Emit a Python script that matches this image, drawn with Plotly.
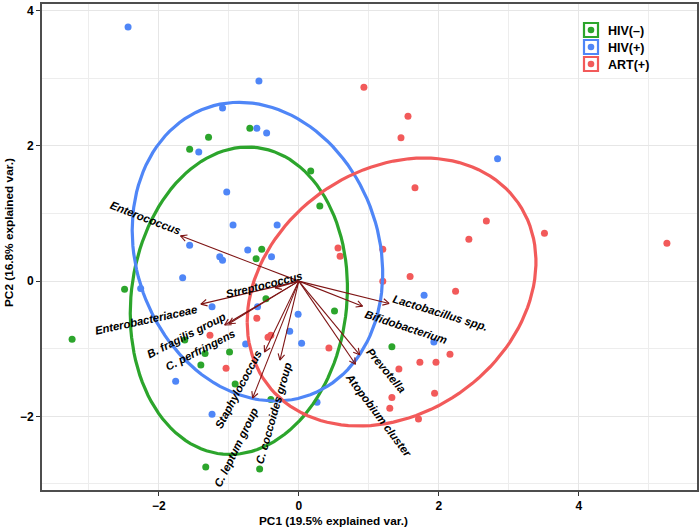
import numpy as np
import plotly.graph_objects as go

# ---------------- data ----------------
groups = ["HIV(–)", "HIV(+)", "ART(+)"]
colors = {"HIV(–)": "#2CA52C", "HIV(+)": "#4F86F7", "ART(+)": "#F25A5A"}

hivneg_pc1 = [-0.70, -1.29, -1.56, 0.17, 0.30, -0.53, -0.61, -2.49, -3.24, -0.47,
              -1.63, -1.34, -0.99, -1.40, -0.91, -0.40, -1.33, -0.56, 0.51, 1.33]
hivneg_pc2 = [2.26, 2.13, 1.95, 1.63, 1.11, 0.47, 0.33, -0.12, -0.86, -0.26,
              -0.87, -1.07, -1.05, -1.24, -1.52, -1.75, -2.75, -2.78, -0.44, -0.97]

hivpos_pc1 = [-2.44, -0.57, -1.09, -0.60, -0.46, -1.43, -1.03, -0.94, -0.31, -1.56,
              -0.73, -0.39, -1.13, -1.09, -1.66, -2.26, -1.24, -0.59, -0.01, -0.13,
              0.04, -0.76, -1.76, -1.24, 0.26, 2.84, 1.79, 1.93]
hivpos_pc2 = [3.76, 2.96, 2.56, 2.26, 2.19, 1.91, 1.32, 0.83, 0.83, 0.53,
              0.46, 0.36, 0.36, 0.31, 0.05, -0.11, -0.38, -0.38, -0.49, -0.74,
              -0.92, -0.93, -1.48, -1.97, -1.79, 1.81, -0.21, -0.90]

artpos_pc1 = [0.93, 1.56, 1.46, 1.66, 2.68, 2.43, 3.51, 5.26, 1.20, 0.56,
              0.59, 1.20, 1.59, 2.24, 2.16, 1.73, 1.96, 1.43, 1.94, 1.33,
              1.30, 1.71, -0.60, -1.27, -0.44, -0.40, 0.43, -1.04]
artpos_pc2 = [2.87, 2.44, 2.12, 1.38, 0.89, 0.62, 0.71, 0.56, 0.47, 0.49,
              0.37, 0.00, 0.07, -0.15, -1.08, -1.20, -1.20, -1.30, -1.66, -1.72,
              -1.88, -2.04, -0.55, -0.80, -0.83, -0.80, -0.99, -1.29]

group_x = {"HIV(–)": hivneg_pc1, "HIV(+)": hivpos_pc1, "ART(+)": artpos_pc1}
group_y = {"HIV(–)": hivneg_pc2, "HIV(+)": hivpos_pc2, "ART(+)": artpos_pc2}

var_names = ["Enterococcus", "Streptococcus", "Enterobacteriaceae", "B. fragilis group",
             "C. perfringens", "Staphylococcus", "C. coccoides group", "C. leptum group",
             "Lactobacillus spp.", "Bifidobacterium", "Prevotella", "Atopobium cluster"]
var_pc1 = [-1.69, -0.34, -1.40, -1.06, -1.00, -0.49, -0.27, -0.66, 1.29, 0.91, 0.87, 0.81]
var_pc2 = [0.67, -0.10, -0.34, -0.65, -0.63, -1.05, -1.17, -1.73, -0.33, -0.37, -1.09, -1.23]

# label placement (centre of each label, data units) and rotation (deg, clockwise)
label_x = [-2.19, -0.50, -2.19, -1.60, -1.41, -0.86, -0.36, -0.89, 2.03, 1.53, 1.24, 1.14]
label_y = [0.93, -0.06, -0.58, -0.80, -1.02, -1.60, -1.95, -2.46, -0.47, -0.68, -1.32, -1.98]
label_angle = [21, -14, -12, -27, -27, -62, -74, -64, 17, 18, 50, 53]

x_ticks = [-2, 0, 2, 4]
y_ticks = [-2, 0, 2, 4]

# ---------------- layout constants ----------------
W, H = 700, 530
ML, MR, MT, MB = 42, 3, 4, 40
XR = [-3.67, 5.69]
YR = [-3.09, 4.10]
pw, ph = W - ML - MR, H - MT - MB
sx = pw / (XR[1] - XR[0])  # px per unit
sy = ph / (YR[1] - YR[0])

FONT = "Liberation Sans, Arial, sans-serif"
ARROW = "#7E1414"

fig = go.Figure()

# points
for g in groups:
    fig.add_trace(go.Scatter(x=group_x[g], y=group_y[g], mode="markers",
                             marker=dict(color=colors[g], size=7),
                             name=g, showlegend=False, hoverinfo="skip"))

# normal data ellipses (ggbiplot style, prob = 0.68)
ed = np.sqrt(-2 * np.log(1 - 0.68))
theta = np.linspace(-np.pi, np.pi, 120)
circle = np.column_stack([np.cos(theta), np.sin(theta)])
for g in groups:
    xy = np.column_stack([group_x[g], group_y[g]])
    mu = xy.mean(axis=0)
    sigma = np.cov(xy, rowvar=False)
    R = np.linalg.cholesky(sigma).T
    ell = circle @ R * ed + mu
    fig.add_trace(go.Scatter(x=ell[:, 0], y=ell[:, 1], mode="lines",
                             line=dict(color=colors[g], width=3.2),
                             showlegend=False, hoverinfo="skip"))

# variable arrows with open chevron heads
ax, ay = [], []
head_len, head_ang = 7.0, np.deg2rad(28)
for vx, vy in zip(var_pc1, var_pc2):
    ax += [0, vx, None]
    ay += [0, vy, None]
    dxp, dyp = vx * sx, vy * sy
    ang = np.arctan2(dyp, dxp)
    for s in (1, -1):
        a = ang + np.pi + s * head_ang
        hx = vx + head_len * np.cos(a) / sx
        hy = vy + head_len * np.sin(a) / sy
        ax += [vx, hx, None]
        ay += [vy, hy, None]
fig.add_trace(go.Scatter(x=ax, y=ay, mode="lines", line=dict(color=ARROW, width=1.1),
                         showlegend=False, hoverinfo="skip"))

# variable labels
for name, lx, ly, ang in zip(var_names, label_x, label_y, label_angle):
    fig.add_annotation(x=lx, y=ly, text="<b><i>%s</i></b>" % name, showarrow=False,
                       textangle=ang, xanchor="center", yanchor="middle",
                       font=dict(family=FONT, size=11.3, color="black"))

# axis titles
def px2paper(px, py):
    return (px - ML) / pw, (H - MB - py) / ph

tx, ty = px2paper(333, 521)
fig.add_annotation(x=tx, y=ty, xref="paper", yref="paper", showarrow=False,
                   text="<b>PC1 (19.5% explained var.)</b>", xanchor="center", yanchor="middle",
                   font=dict(family=FONT, size=11.8, color="black"))
tx, ty = px2paper(9, 233)
fig.add_annotation(x=tx, y=ty, xref="paper", yref="paper", showarrow=False, textangle=-90,
                   text="<b>PC2 (16.8% explained var.)</b>", xanchor="center", yanchor="middle",
                   font=dict(family=FONT, size=11.8, color="black"))

# legend drawn manually
shapes = []
x0p, y0p = px2paper(577, 18)
x1p, y1p = px2paper(650, 77)
shapes.append(dict(type="rect", xref="paper", yref="paper", x0=x0p, x1=x1p, y0=y1p, y1=y0p,
                   fillcolor="white", line=dict(width=0), layer="below"))
for i, g in enumerate(groups):
    top = 23 + i * 17
    a0, b0 = px2paper(584, top)
    a1, b1 = px2paper(598, top + 14)
    shapes.append(dict(type="rect", xref="paper", yref="paper", x0=a0, x1=a1, y0=b1, y1=b0,
                       fillcolor="white", line=dict(color=colors[g], width=2.2)))
    c0, d0 = px2paper(591 - 3.3, top + 7 - 3.3)
    c1, d1 = px2paper(591 + 3.3, top + 7 + 3.3)
    shapes.append(dict(type="circle", xref="paper", yref="paper", x0=c0, x1=c1, y0=d1, y1=d0,
                       fillcolor=colors[g], line=dict(width=0)))
    tx, ty = px2paper(606, top + 8)
    fig.add_annotation(x=tx, y=ty, xref="paper", yref="paper", showarrow=False,
                       text="<b>%s</b>" % g, xanchor="left", yanchor="middle",
                       font=dict(family=FONT, size=12.5, color="black"))

axis_common = dict(showgrid=True, gridcolor="#E6E6E6", gridwidth=1, zeroline=False,
                   showline=True, linecolor="#4D4D4D", linewidth=1.6, mirror=True,
                   ticks="outside", ticklen=4, tickwidth=1, tickcolor="#333333",
                   automargin=False,
                   tickfont=dict(family=FONT, size=12, color="black", weight="bold"),
                   minor=dict(dtick=1, showgrid=True, gridcolor="#EDEDED", gridwidth=1, ticks=""))

fig.update_layout(
    width=W, height=H,
    margin=dict(l=ML, r=MR, t=MT, b=MB, autoexpand=False),
    paper_bgcolor="white", plot_bgcolor="white",
    shapes=shapes,
    xaxis=dict(range=XR, tickvals=x_ticks, ticktext=["−2", "0", "2", "4"], **axis_common),
    yaxis=dict(range=YR, tickvals=y_ticks, ticktext=["−2", "0", "2", "4"], **axis_common),
    showlegend=False,
)
fig.update_xaxes(minor=dict(tick0=0))
fig.update_yaxes(minor=dict(tick0=0))

fig.write_html("out.html", config={"displayModeBar": False},
               post_script="document.body.style.margin='0';")
